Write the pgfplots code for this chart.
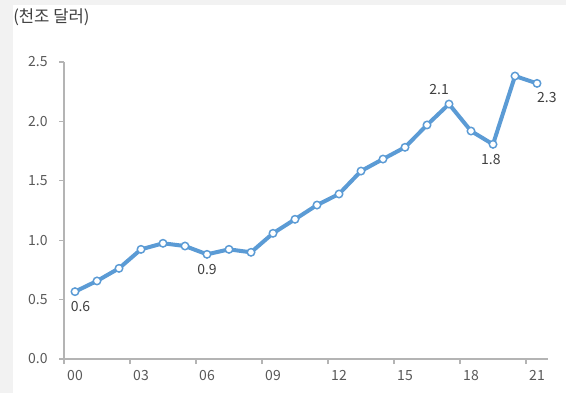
\documentclass[border=0pt]{standalone}
\usepackage{pgfplots}
\pgfplotsset{compat=1.18}
\usepackage{fontspec}
\setmainfont{Noto Sans CJK KR}
\definecolor{linec}{HTML}{5B9BD5}
\definecolor{axc}{HTML}{B4B4B4}
\definecolor{tickc}{HTML}{595959}
\definecolor{lblc}{HTML}{404040}
\definecolor{bgc}{HTML}{F2F2F2}
\begin{document}
\begin{tikzpicture}[x=1pt,y=1pt]
\fill[bgc] (0,0) rectangle (424.5,294.75);
\fill[white] (9.75,0) rectangle (424.5,291);
\node[anchor=west,inner sep=0pt,text=lblc,font=\fontsize{12.5}{14}\selectfont] at (9.75,281.5) {(천조 달러)};
\begin{axis}[
  at={(48pt,25.5pt)}, anchor=south west,
  scale only axis, width=363pt, height=222.75pt,
  xmin=-0.5, xmax=21.5, ymin=0, ymax=2.5,
  axis x line*=bottom, axis y line*=left,
  axis line style={axc, line width=0.8pt},
  xtick={0,3,...,21},
  xticklabels={00,03,06,09,12,15,18,21},
  minor xtick={-0.5,2.5,...,20.5},
  major x tick style={draw=none},
  minor x tick style={axc, line width=0.8pt},
  ytick={0,0.5,...,2.5},
  y tick style={axc, line width=0.8pt},
  tick align=outside,
  major tick length=3.75pt, minor tick length=3.75pt,
  yticklabel style={/pgf/number format/fixed, /pgf/number format/fixed zerofill, /pgf/number format/precision=1, xshift=-5pt},
  xticklabel style={yshift=-1pt},
  /pgf/number format/assume math mode=true,
  tick label style={text=tickc, font=\fontsize{10.5}{12}\selectfont},
  clip=false,
]
\addplot[linec, line width=3pt, mark=*, mark size=2.8pt,
  mark options={fill=white, draw=linec, line width=1.1pt}]
coordinates {
(0,0.567) (1,0.657) (2,0.763) (3,0.923) (4,0.974) (5,0.951) (6,0.881)
(7,0.923) (8,0.898) (9,1.058) (10,1.176) (11,1.296) (12,1.389) (13,1.582)
(14,1.683) (15,1.782) (16,1.97) (17,2.146) (18,1.919) (19,1.807) (20,2.382) (21,2.32)
};
\begin{scope}[every node/.style={text=lblc, font=\fontsize{10.5}{12}\selectfont, inner sep=1pt}]
\node[anchor=north] at (axis cs:0.25,0.50) {0.6};
\node[anchor=north] at (axis cs:6,0.81) {0.9};
\node[anchor=south] at (axis cs:16.55,2.21) {2.1};
\node[anchor=north] at (axis cs:18.9,1.74) {1.8};
\node[anchor=north] at (axis cs:21.45,2.26) {2.3};
\end{scope}
\end{axis}
\end{tikzpicture}
\end{document}
